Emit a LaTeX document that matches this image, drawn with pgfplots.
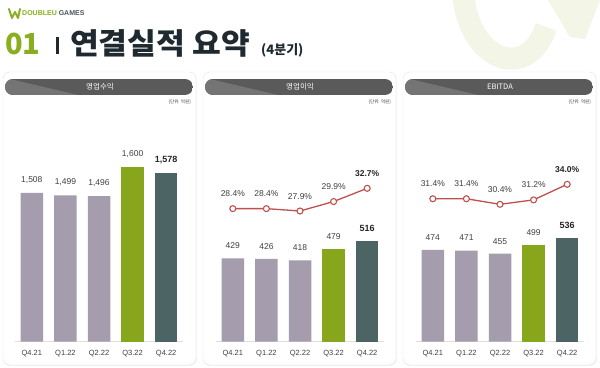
\documentclass[border=0pt]{standalone}
\usepackage{fontspec}
\usepackage{pgfplots}
\pgfplotsset{compat=1.18}
\usetikzlibrary{shadows}
\setmainfont{Liberation Sans}
\newfontfamily\kr{Noto Sans CJK KR}
\definecolor{barGray}{HTML}{A59CAD}
\definecolor{barGreen}{HTML}{87A61B}
\definecolor{barTeal}{HTML}{4C6564}
\definecolor{lineRed}{HTML}{C0504F}
\definecolor{txt}{HTML}{404040}
\definecolor{titleDark}{HTML}{1F2A30}
\definecolor{titleGreen}{HTML}{8AAE1F}
\definecolor{hdrDark}{HTML}{5A5A5A}
\definecolor{hdrLight}{HTML}{747474}
\definecolor{wm}{HTML}{F3F5E7}
\pgfplotsset{
  barax/.style={scale only axis, width=168pt, xmin=-0.5, xmax=4.5,
    anchor=south west,
    axis x line*=bottom, axis y line=none,
    x axis line style={draw=gray!25, -},
    xtick={0,...,4}, xticklabels={Q4.21,Q1.22,Q2.22,Q3.22,Q4.22},
    xtick style={draw=none},
    xticklabel style={font=\fontsize{7.5}{8}\selectfont, text=txt, yshift=-5pt},
    ytick=\empty,
    nodes near coords,
    every node near coord/.append style={font=\fontsize{8.5}{9}\selectfont, text=txt, yshift=6pt},
    /pgf/number format/1000 sep={,},
    /pgf/number format/assume math mode=true},
  lineax/.style={scale only axis, width=168pt, xmin=-0.5, xmax=4.5,
    anchor=south west, axis lines=none, clip=false},
  redline/.style={lineRed, line width=1.3pt, mark=*, mark size=3pt,
    mark options={fill=white, draw=lineRed, line width=1.1pt},
    nodes near coords, point meta=explicit symbolic,
    every node near coord/.append style={font=\fontsize{8.5}{9}\selectfont, text=txt, yshift=8pt}},
  gbar/.style={ybar, bar width=22.5pt, bar shift=0pt, draw=none, fill=barGray},
  grbar/.style={ybar, bar width=22.5pt, bar shift=0pt, draw=none, fill=barGreen},
  tbar/.style={ybar, bar width=22.5pt, bar shift=0pt, draw=none, fill=barTeal,
    every node near coord/.append style={font=\bfseries\fontsize{9}{10}\selectfont, text=black!85}},
}
\begin{document}
\begin{tikzpicture}[x=1pt,y=1pt]
\useasboundingbox (0pt,0pt) rectangle (600pt,367pt);
\fill[white] (0pt,0pt) rectangle (600pt,367pt);
% watermark
\draw[wm, line width=22pt] (463pt,375pt) .. controls (468pt,305pt) and (528pt,285pt) .. (546pt,340pt);
\fill[wm] (548pt,367pt) -- (600pt,367pt) -- (585pt,328pt) -- (570pt,330pt) -- cycle;
% logo
\draw[titleGreen, line width=2pt, line join=round, line cap=round] (9pt,358pt) -- (12pt,349pt) -- (15pt,355pt) -- (18pt,349pt) -- (20pt,358pt);
\node[anchor=west, inner sep=0pt, font=\bfseries\fontsize{7}{8}\selectfont] at (22pt,353.5pt) {\textcolor{titleGreen}{DOUBLEU} \textcolor{titleDark!80}{GAMES}};
% title
\node[anchor=base west, inner sep=0pt, font=\kr\bfseries\fontsize{29}{30}\selectfont, text=titleGreen] at (5pt,312pt) {01};
\fill[titleDark] (56pt,313pt) rectangle (59pt,330pt);
\node[anchor=base west, inner sep=0pt, xscale=1.06, font=\kr\bfseries\fontsize{29.5}{30}\selectfont, text=titleDark] at (70pt,312pt) {연결실적 요약};
\node[anchor=base west, inner sep=0pt, font=\kr\bfseries\fontsize{13}{14}\selectfont, text=titleDark] at (261pt,312pt) {(4분기)};
% cards
\foreach \xo/\ttl in {0/영업수익, 200/영업이익, 400/EBITDA} {
  \draw[gray!22, fill=white, rounded corners=7pt, drop shadow={opacity=0.12, shadow xshift=0.6pt, shadow yshift=-0.8pt}] (\xo pt+3pt,2pt) rectangle (\xo pt+196pt,295pt);
  \begin{scope}
    \clip[rounded corners=8pt] (\xo pt+5pt,272pt) rectangle (\xo pt+193pt,288pt);
    \fill[hdrDark] (\xo pt+5pt,272pt) rectangle (\xo pt+193pt,288pt);
    \fill[hdrLight] (\xo pt+5pt,288pt) -- (\xo pt+10pt,288pt) -- (\xo pt+78pt,272pt) -- (\xo pt+5pt,272pt) -- cycle;
  \end{scope}
  \node[white, font=\kr\fontsize{7.5}{8}\selectfont] at (\xo pt+100pt,280pt) {\ttl};
  \node[anchor=east, inner sep=0pt, font=\kr\fontsize{4.5}{5}\selectfont, text=txt] at (\xo pt+191pt,265pt) {(단위: 억원)};
}
% panel 1: revenue
\begin{axis}[barax, at={(15pt,25.3pt)}, ymin=981, ymax=1800, height=231.4pt]
\addplot[gbar] coordinates {(0,1508) (1,1499) (2,1496)};
\addplot[grbar] coordinates {(3,1600)};
\addplot[tbar] coordinates {(4,1578)};
\end{axis}
% panel 2: operating profit
\begin{axis}[barax, at={(216pt,25.3pt)}, ymin=0, ymax=700, height=136pt]
\addplot[gbar] coordinates {(0,429) (1,426) (2,418)};
\addplot[grbar] coordinates {(3,479)};
\addplot[tbar] coordinates {(4,516)};
\end{axis}
\begin{axis}[lineax, at={(216pt,147pt)}, ymin=26, ymax=36, height=47.3pt]
\addplot[redline] coordinates {(0,28.4) [28.4\%] (1,28.4) [28.4\%] (2,27.9) [27.9\%] (3,29.9) [29.9\%] (4,32.7) [\textbf{\textcolor{black!85}{32.7\%}}]};
\end{axis}
% panel 3: EBITDA
\begin{axis}[barax, at={(416pt,25.3pt)}, ymin=0, ymax=700, height=135.5pt]
\addplot[gbar] coordinates {(0,474) (1,471) (2,455)};
\addplot[grbar] coordinates {(3,499)};
\addplot[tbar] coordinates {(4,536)};
\end{axis}
\begin{axis}[lineax, at={(416pt,154.9pt)}, ymin=29, ymax=36, height=38.9pt]
\addplot[redline] coordinates {(0,31.4) [31.4\%] (1,31.4) [31.4\%] (2,30.4) [30.4\%] (3,31.2) [31.2\%] (4,34.0) [\textbf{\textcolor{black!85}{34.0\%}}]};
\end{axis}
\end{tikzpicture}
\end{document}
